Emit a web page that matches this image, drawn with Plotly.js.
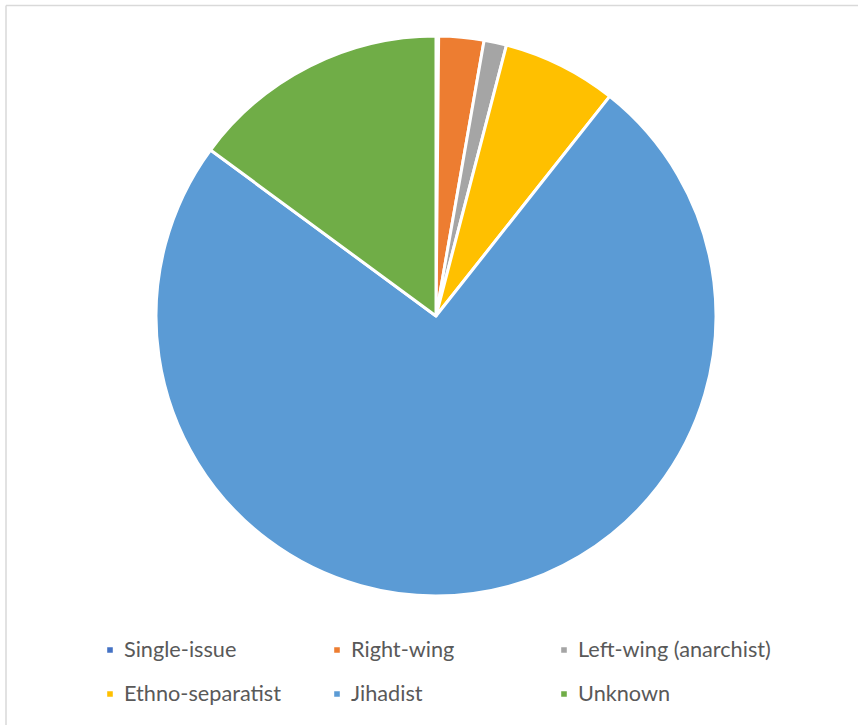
<!DOCTYPE html>
<html>
<head>
<meta charset="utf-8">
<script src="https://cdn.plot.ly/plotly-3.0.1.min.js"></script>
<style>
  html, body { margin: 0; padding: 0; background: #fff; }
  #chart { width: 858px; height: 725px; }
  #chart .legendpoints path.legendpie { transform: translate(26px, 5px) scale(0.62); }
  #chart .legend .scrollbox, #chart .legend { clip-path: none !important; }
</style>
</head>
<body>
<div id="chart"></div>
<script>
const categories = ["Single-issue", "Right-wing", "Left-wing (anarchist)", "Ethno-separatist", "Jihadist", "Unknown"];
const shares = [0.15, 2.6, 1.3, 6.6, 74.45, 14.9];
const colors = ["#4472C4", "#ED7D31", "#A5A5A5", "#FFC000", "#5B9BD5", "#70AD47"];

const W = 858, H = 725;
const cx = 436, cy = 316, r = 280;

const legendLabels = categories.map(c => '<span style="font-size:21.7px">' + c + '</span>');

const trace = {
  type: "pie",
  labels: legendLabels,
  values: shares,
  sort: false,
  direction: "clockwise",
  rotation: 0,
  textinfo: "none",
  hoverinfo: "label+value",
  marker: { colors: colors, line: { color: "#ffffff", width: 3 } },
  domain: {
    x: [(cx - r) / W, (cx + r) / W],
    y: [1 - (cy + r) / H, 1 - (cy - r) / H]
  }
};

const layout = {
  width: W,
  height: H,
  margin: { l: 0, r: 0, t: 0, b: 0 },
  paper_bgcolor: "#ffffff",
  showlegend: true,
  legend: {
    orientation: "h",
    x: 84 / W,
    xanchor: "left",
    y: 1 - 618 / H,
    yanchor: "top",
    entrywidth: 182,
    entrywidthmode: "pixels",
    font: { family: "Lato, 'Open Sans', sans-serif", size: 31.5, color: "#595959" },
    traceorder: "normal",
    itemclick: false
  },
  shapes: [
    { type: "line", xref: "paper", yref: "paper", x0: 6 / W, x1: 1, y0: 1 - 5.5 / H, y1: 1 - 5.5 / H, line: { color: "#d9d9d9", width: 1.5 } },
    { type: "line", xref: "paper", yref: "paper", x0: 6 / W, x1: 6 / W, y0: 0, y1: 1 - 5.5 / H, line: { color: "#d9d9d9", width: 1.5 } }
  ]
};

Plotly.newPlot("chart", [trace], layout, { displayModeBar: false, staticPlot: true });
</script>
</body>
</html>
